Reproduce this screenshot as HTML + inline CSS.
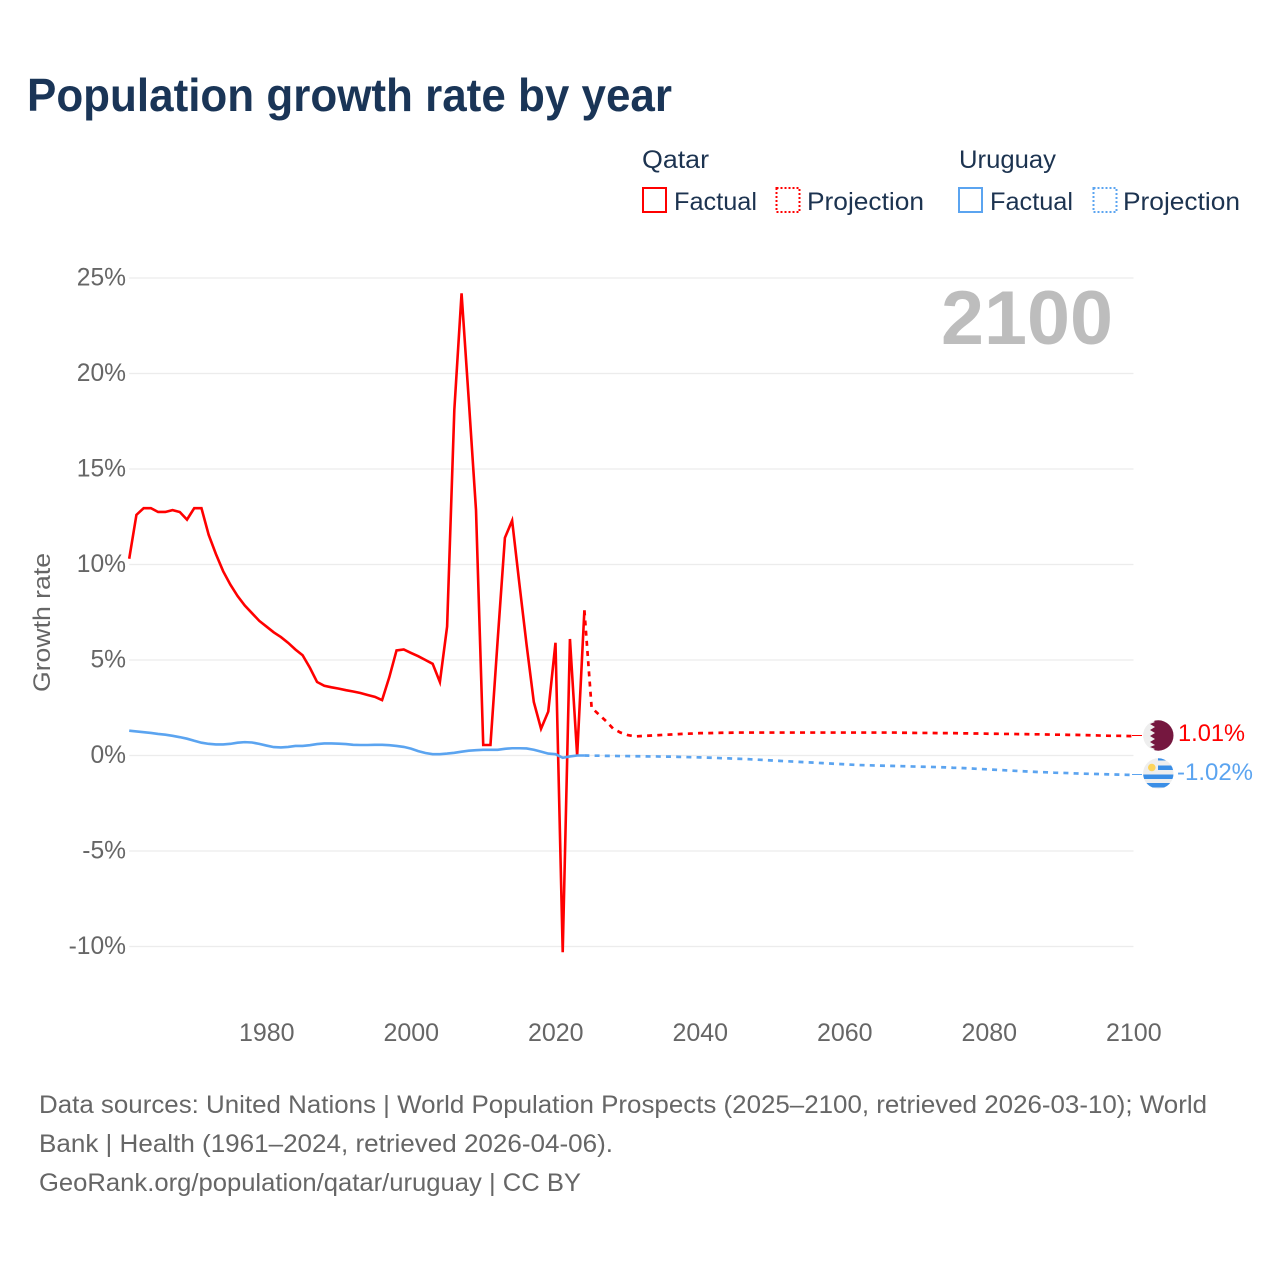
<!DOCTYPE html>
<html lang="en">
<head>
<meta charset="utf-8">
<title>Population growth rate by year</title>
<style>
html,body{margin:0;padding:0;background:#fff;width:1280px;height:1280px;overflow:hidden}
svg{display:block;font-family:"Liberation Sans",sans-serif}
</style>
</head>
<body>
<svg id="chart" xmlns="http://www.w3.org/2000/svg" width="1280" height="1280" viewBox="0 0 1280 1280">
  <rect x="0" y="0" width="1280" height="1280" fill="#fff"/>
  <text x="27" y="111" font-size="46" font-weight="700" fill="#1a3557" textLength="645" lengthAdjust="spacingAndGlyphs">Population growth rate by year</text>

  <g font-size="25" fill="#1c3350">
    <text x="642" y="168" textLength="67" lengthAdjust="spacingAndGlyphs">Qatar</text>
    <text x="959" y="168" textLength="97" lengthAdjust="spacingAndGlyphs">Uruguay</text>
    <g>
      <rect x="643" y="188" width="23" height="24" fill="none" stroke="#ff0000" stroke-width="2"/>
      <text x="674" y="210" textLength="83" lengthAdjust="spacingAndGlyphs">Factual</text>
    </g>
    <g>
      <rect x="776.5" y="188" width="23" height="24" fill="none" stroke="#ff0000" stroke-width="2" stroke-dasharray="2 2"/>
      <text x="807" y="210" textLength="117" lengthAdjust="spacingAndGlyphs">Projection</text>
    </g>
    <g>
      <rect x="959" y="188" width="23" height="24" fill="none" stroke="#5ba4f0" stroke-width="2"/>
      <text x="990" y="210" textLength="83" lengthAdjust="spacingAndGlyphs">Factual</text>
    </g>
    <g>
      <rect x="1093.5" y="188" width="23" height="24" fill="none" stroke="#5ba4f0" stroke-width="2" stroke-dasharray="2 2"/>
      <text x="1123" y="210" textLength="117" lengthAdjust="spacingAndGlyphs">Projection</text>
    </g>
  </g>

  <text transform="translate(50,692) rotate(-90)" font-size="24" fill="#666" textLength="139" lengthAdjust="spacingAndGlyphs">Growth rate</text>
  <g id="grid"></g>
  <g id="yticks" font-size="24.6" fill="#666" text-anchor="end"></g>
  <g id="xticks" font-size="25" fill="#666" text-anchor="middle"></g>
  <text x="941" y="344" font-size="76" font-weight="700" fill="#bdbdbd" textLength="172" lengthAdjust="spacingAndGlyphs">2100</text>
  <g id="series"></g>

  <line x1="1132" y1="735.5" x2="1142" y2="735.5" stroke="#ff0000" stroke-width="1"/>
  <line x1="1132" y1="774.5" x2="1142" y2="774.5" stroke="#5ba4f0" stroke-width="1"/>

  <defs>
    <clipPath id="clip-qa"><circle cx="1158.3" cy="735.5" r="15.2"/></clipPath>
    <clipPath id="clip-uy"><circle cx="1158.3" cy="773.5" r="15.2"/></clipPath>
  </defs>
  <g clip-path="url(#clip-qa)">
    <rect x="1143" y="720" width="31" height="31" fill="#eeeeee"/>
    <polygon fill="#75173f" points="1174,720 1152,720 1155,722 1150,724 1155,727 1150,730 1155,733 1150,736 1155,739 1150,742 1155,745 1150,747 1155,749 1152,751 1174,751"/>
  </g>
  <g clip-path="url(#clip-uy)">
    <rect x="1143" y="758" width="31" height="31" fill="#eeeeee"/>
    <rect x="1158" y="758" width="16" height="2.5" fill="#3a8ee6"/>
    <rect x="1158" y="765.5" width="16" height="4.5" fill="#3a8ee6"/>
    <rect x="1143" y="774.5" width="31" height="4.5" fill="#3a8ee6"/>
    <rect x="1143" y="783" width="31" height="4.5" fill="#3a8ee6"/>
    <circle cx="1151.8" cy="767.5" r="3.8" fill="#fcd45c"/>
  </g>
  <text x="1178" y="741" font-size="24" fill="#ff0000" textLength="67" lengthAdjust="spacingAndGlyphs">1.01%</text>
  <text x="1177" y="780" font-size="24" fill="#5ba4f0" textLength="76" lengthAdjust="spacingAndGlyphs">-1.02%</text>

  <g font-size="25" fill="#666">
    <text x="39" y="1113" textLength="1168" lengthAdjust="spacingAndGlyphs">Data sources: United Nations | World Population Prospects (2025–2100, retrieved 2026-03-10); World</text>
    <text x="39" y="1152" textLength="574" lengthAdjust="spacingAndGlyphs">Bank | Health (1961–2024, retrieved 2026-04-06).</text>
    <text x="39" y="1191" textLength="542" lengthAdjust="spacingAndGlyphs">GeoRank.org/population/qatar/uruguay | CC BY</text>
  </g>
</svg>
<script>
// Tick labels
const yTickValues = [25, 20, 15, 10, 5, 0, -5, -10];
const xTickYears = [1980, 2000, 2020, 2040, 2060, 2080, 2100];

// Factual series, one value per year from 1961
const factualStartYear = 1961;
const qatarFactual = [10.3,12.6,12.95,12.95,12.75,12.75,12.85,12.75,12.35,12.95,12.95,11.55,10.55,9.65,8.95,8.35,7.85,7.45,7.05,6.75,6.45,6.2,5.9,5.55,5.25,4.6,3.85,3.65,3.57,3.5,3.42,3.35,3.27,3.17,3.07,2.9,4.1,5.5,5.55,5.37,5.2,5.0,4.8,3.85,6.75,18.1,24.2,18.6,12.85,0.55,0.55,6.05,11.4,12.3,9.0,5.8,2.8,1.4,2.3,5.9,-10.3,6.1,0.0,7.6];
const uruguayFactual = [1.3,1.26,1.22,1.18,1.13,1.09,1.03,0.96,0.88,0.77,0.67,0.61,0.58,0.58,0.61,0.67,0.7,0.68,0.61,0.52,0.44,0.42,0.45,0.5,0.5,0.54,0.6,0.63,0.63,0.62,0.6,0.56,0.55,0.55,0.56,0.56,0.54,0.5,0.45,0.36,0.23,0.13,0.07,0.07,0.1,0.14,0.2,0.25,0.28,0.3,0.3,0.3,0.35,0.38,0.38,0.37,0.3,0.2,0.1,0.07,-0.12,-0.05,0.0,0.0];

// Projection series, one value per year from 2024
const projectionStartYear = 2024;
const qatarProjection = [7.6,2.5,2.15,1.8,1.4,1.2,1.07,1.0,1.02,1.04,1.06,1.08,1.1,1.12,1.14,1.15,1.17,1.17,1.18,1.19,1.19,1.2,1.2,1.2,1.2,1.2,1.2,1.2,1.2,1.2,1.2,1.2,1.2,1.2,1.2,1.2,1.2,1.2,1.2,1.2,1.2,1.2,1.2,1.2,1.19,1.19,1.18,1.18,1.18,1.17,1.17,1.17,1.16,1.16,1.15,1.15,1.14,1.14,1.13,1.13,1.12,1.12,1.11,1.11,1.1,1.09,1.09,1.08,1.08,1.07,1.06,1.05,1.04,1.03,1.03,1.02,1.01];
const uruguayProjection = [0.0,-0.01,-0.01,-0.02,-0.02,-0.03,-0.03,-0.04,-0.04,-0.05,-0.05,-0.06,-0.06,-0.07,-0.08,-0.09,-0.1,-0.11,-0.12,-0.14,-0.15,-0.17,-0.18,-0.2,-0.22,-0.24,-0.26,-0.28,-0.3,-0.32,-0.34,-0.36,-0.38,-0.4,-0.42,-0.44,-0.46,-0.48,-0.5,-0.51,-0.52,-0.53,-0.54,-0.55,-0.56,-0.57,-0.58,-0.59,-0.6,-0.61,-0.62,-0.64,-0.65,-0.67,-0.69,-0.71,-0.73,-0.75,-0.77,-0.79,-0.81,-0.83,-0.85,-0.87,-0.88,-0.9,-0.91,-0.92,-0.94,-0.95,-0.96,-0.97,-0.98,-0.99,-1.0,-1.01,-1.02];

const NS = 'http://www.w3.org/2000/svg';
const plotLeft = 129.2, plotRight = 1133.5;
const yearMin = 1961, yearMax = 2100;
const zeroY = 755.5, pxPerPercent = 19.1;

function xScale(year) {
  return plotLeft + (year - yearMin) * (plotRight - plotLeft) / (yearMax - yearMin);
}
function yScale(value) {
  return zeroY - value * pxPerPercent;
}
function pathFor(values, startYear) {
  return values.map(function (v, i) {
    return (i ? 'L' : 'M') + xScale(startYear + i).toFixed(2) + ' ' + yScale(v).toFixed(2);
  }).join(' ');
}

const grid = document.getElementById('grid');
const yticks = document.getElementById('yticks');
const xticks = document.getElementById('xticks');
const series = document.getElementById('series');

yTickValues.forEach(function (v) {
  const line = document.createElementNS(NS, 'line');
  
  
  line.setAttribute('x1', plotLeft);
  line.setAttribute('x2', plotRight);
  line.setAttribute('y1', yScale(v));
  line.setAttribute('y2', yScale(v));
  line.setAttribute('stroke', '#ececec');
  line.setAttribute('stroke-width', '1.3');
  grid.appendChild(line);

  const label = document.createElementNS(NS, 'text');
  
  
  label.setAttribute('x', 126);
  label.setAttribute('y', yScale(v) + 7.5);
  label.textContent = v + '%';
  yticks.appendChild(label);
});

xTickYears.forEach(function (year) {
  const label = document.createElementNS(NS, 'text');
  
  
  label.setAttribute('x', xScale(year) + 0.3);
  label.setAttribute('y', 1041);
  label.textContent = year;
  xticks.appendChild(label);
});

function drawProjection(values, color, name) {
  const p = document.createElementNS(NS, 'path');
  
  
  p.setAttribute('d', pathFor(values, projectionStartYear));
  p.setAttribute('fill', 'none');
  p.setAttribute('stroke', color);
  p.setAttribute('stroke-width', '2.7');
  p.setAttribute('stroke-dasharray', '5 5.2');
  series.appendChild(p);
}
function drawFactual(values, color, name) {
  const p = document.createElementNS(NS, 'path');
  
  
  p.setAttribute('d', pathFor(values, factualStartYear));
  p.setAttribute('fill', 'none');
  p.setAttribute('stroke', color);
  p.setAttribute('stroke-width', '2.6');
  p.setAttribute('stroke-linejoin', 'miter');
  series.appendChild(p);
}

drawProjection(qatarProjection, '#ff0000', 'qatar-projection-line');
drawFactual(qatarFactual, '#ff0000', 'qatar-factual-line');
drawProjection(uruguayProjection, '#5ba4f0', 'uruguay-projection-line');
drawFactual(uruguayFactual, '#5ba4f0', 'uruguay-factual-line');
</script>
</body>
</html>
